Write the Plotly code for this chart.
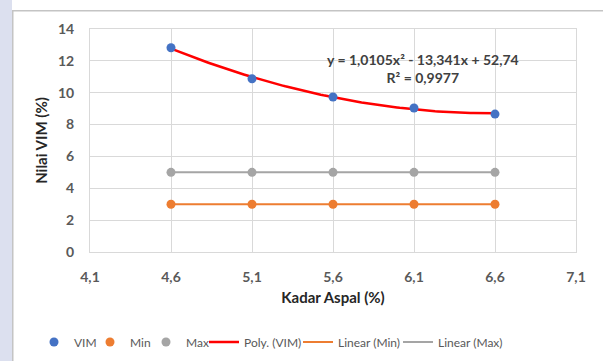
import numpy as np
import plotly.graph_objects as go

kadar_aspal = [4.6, 5.1, 5.6, 6.1, 6.6]
vim = [12.82, 10.88, 9.73, 9.04, 8.66]
vim_min = [3, 3, 3, 3, 3]
vim_max = [5, 5, 5, 5, 5]
x_ticks = [4.1, 4.6, 5.1, 5.6, 6.1, 6.6, 7.1]
y_ticks = [0, 2, 4, 6, 8, 10, 12, 14]
equation_text = "y = 1,0105x² - 13,341x + 52,74<br>R² = 0,9977"

BLUE = "#4472C4"
ORANGE = "#ED7D31"
GRAY = "#A5A5A5"
RED = "#FF0000"
FONT = "Lato, Liberation Sans, sans-serif"

# trendlines fitted from the data
xs = np.linspace(min(kadar_aspal), max(kadar_aspal), 120)
poly = np.polyval(np.polyfit(kadar_aspal, vim, 2), xs)
lin_min = np.polyval(np.polyfit(kadar_aspal, vim_min, 1), xs)
lin_max = np.polyval(np.polyfit(kadar_aspal, vim_max, 1), xs)

fig = go.Figure()
fig.add_trace(go.Scatter(x=xs, y=poly, mode="lines", name="Poly. (VIM)",
                         line=dict(color=RED, width=2.5), legend="legend4"))
fig.add_trace(go.Scatter(x=xs, y=lin_min, mode="lines", name="Linear (Min)",
                         line=dict(color=ORANGE, width=2), legend="legend5"))
fig.add_trace(go.Scatter(x=xs, y=lin_max, mode="lines", name="Linear (Max)",
                         line=dict(color=GRAY, width=2), legend="legend6"))
fig.add_trace(go.Scatter(x=kadar_aspal, y=vim, mode="markers", name="VIM",
                         marker=dict(color=BLUE, size=9), legend="legend"))
fig.add_trace(go.Scatter(x=kadar_aspal, y=vim_min, mode="markers", name="Min",
                         marker=dict(color=ORANGE, size=9), legend="legend2"))
fig.add_trace(go.Scatter(x=kadar_aspal, y=vim_max, mode="markers", name="Max",
                         marker=dict(color=GRAY, size=9), legend="legend3"))

axis_common = dict(showgrid=True, gridcolor="#D9D9D9", gridwidth=1,
                   showline=True, linecolor="#D9D9D9", linewidth=1, mirror=True,
                   zeroline=False, ticks="outside", ticklen=12,
                   tickcolor="rgba(0,0,0,0)",
                   tickfont=dict(family=FONT, size=14, color="#595959", weight="bold"))

title_font = dict(family=FONT, size=15, color="#262626", weight="bold")

fig.update_xaxes(range=[4.1, 7.1], tickvals=x_ticks, tickformat=".1f",
                 title=dict(text="Kadar Aspal (%)", standoff=8, font=title_font),
                 **axis_common)
fig.update_yaxes(range=[0, 14], tickvals=y_ticks,
                 title=dict(text="Nilai VIM (%)", standoff=6, font=title_font),
                 **axis_common)

fig.add_annotation(x=6.156, y=11.55, xref="x", yref="y", text=equation_text,
                   showarrow=False,
                   font=dict(family=FONT, size=14, color="#404040", weight="bold"))

# faint background strip at the far left and the chart-area frame (as boxes)
fig.add_annotation(x=-0.18519, y=1.2, xref="paper", yref="paper",
                   xanchor="left", yanchor="top", text=" ", showarrow=False,
                   width=12, height=400, bgcolor="#DCE0EF", borderwidth=0,
                   borderpad=0)
fig.add_annotation(x=-0.1595, y=1.083, xref="paper", yref="paper",
                   xanchor="left", yanchor="top", text=" ", showarrow=False,
                   width=640, height=400, bordercolor="#C4C4C4", borderwidth=1.5,
                   borderpad=0, bgcolor="rgba(0,0,0,0)")

legend_font = dict(family=FONT, size=12, color="#595959")
legend_lefts = [34, 90, 146, 204, 298, 398]   # pixel positions of legend entries
legend_y = (252 - 342) / 223


def legend_box(left_px):
    return dict(orientation="h", x=(left_px - 90) / 486, xanchor="left",
                y=legend_y, yanchor="middle", font=legend_font, itemwidth=30,
                bgcolor="rgba(0,0,0,0)")


fig.update_layout(
    width=603, height=361,
    margin=dict(l=90, r=27, t=29, b=109, autoexpand=False),
    paper_bgcolor="white", plot_bgcolor="white",
    separators=",.",
    showlegend=True,
    legend=legend_box(legend_lefts[0]),
    legend2=legend_box(legend_lefts[1]),
    legend3=legend_box(legend_lefts[2]),
    legend4=legend_box(legend_lefts[3]),
    legend5=legend_box(legend_lefts[4]),
    legend6=legend_box(legend_lefts[5]),
    font=dict(family=FONT),
)

fig.write_html("out.html", post_script="document.body.style.margin='0';",
               config={"displayModeBar": False})
